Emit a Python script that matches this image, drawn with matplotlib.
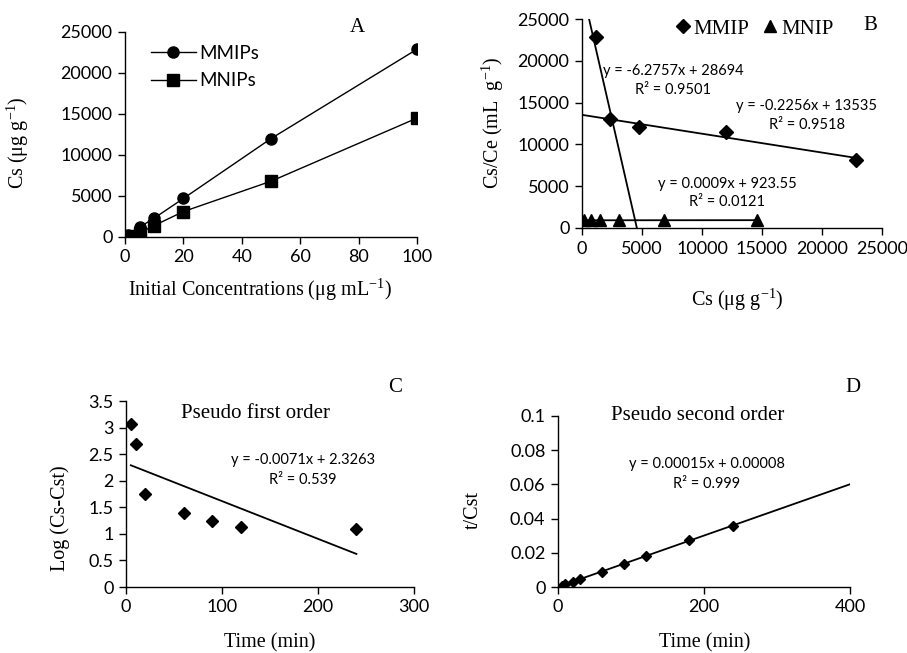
import numpy as np
import matplotlib
matplotlib.use("Agg")
import matplotlib.pyplot as plt

# ---- data ----
conc = [1, 5, 10, 20, 50, 100]
cs_mmip = [250, 1200, 2300, 4700, 12000, 22900]
cs_mnip = [100, 500, 1400, 3100, 6800, 14500]

# Scatchard
sc_mmip_x = [1194, 2360, 4720, 12000, 22860]
sc_mmip_y = [22800, 13040, 12040, 11440, 8130]
sc_mnip_x = [140, 750, 1470, 3110, 6830, 14580]
sc_mnip_y = [920, 960, 1000, 920, 930, 960]
fit_steep = (-6.2757, 28694)
fit_flat = (-0.2256, 13535)
fit_mnip = (0.0009, 923.55)

# kinetics
t_first = [5, 10, 20, 60, 90, 120, 240]
log_first = [3.07, 2.70, 1.75, 1.40, 1.25, 1.13, 1.09]
fit_first = (-0.0071, 2.3263)

t_second = [5, 10, 20, 30, 60, 90, 120, 180, 240]
tq_second = [0.0008, 0.0018, 0.0031, 0.0047, 0.0088, 0.0134, 0.0179, 0.0272, 0.0358]
fit_second = (0.00015, 0.00008)

W, H = 907, 653
SANS = "Lato"
SERIF = "Liberation Serif"
LBL = 15     # serif titles / letters
AXL = 14.5   # axis labels
TCK = 13     # tick labels
EQ = 10.5    # trendline equations

plt.rcParams["font.family"] = SANS
plt.rcParams["mathtext.fontset"] = "custom"
plt.rcParams["mathtext.rm"] = SERIF
plt.rcParams["mathtext.it"] = SERIF + ":italic"
plt.rcParams["axes.linewidth"] = 1.0

fig = plt.figure(figsize=(W / 100, H / 100), dpi=100)


def box(l, r, b, t):
    return [l / W, 1 - b / H, (r - l) / W, (b - t) / H]


def ftext(x, y, s, **kw):
    kw.setdefault("ha", "center")
    kw.setdefault("va", "center")
    fig.text(x / W, 1 - y / H, s, **kw)


def style(ax):
    for sp in ("top", "right"):
        ax.spines[sp].set_visible(False)
    ax.tick_params(direction="out", length=5, width=1, labelsize=TCK, pad=4)


# ---- A ----
axA = fig.add_axes(box(125, 417, 237, 32))
style(axA)
axA.plot(conc, cs_mmip, "k-o", lw=1, ms=8, label="MMIPs")
axA.plot(conc, cs_mnip, "k-s", lw=1, ms=8, label="MNIPs")
axA.set_xlim(0, 100)
axA.set_ylim(0, 25000)
axA.set_xticks(range(0, 101, 20))
axA.set_yticks(range(0, 25001, 5000))
axA.legend(loc="upper left", bbox_to_anchor=(0.03, 1.02), frameon=False,
           fontsize=13.5, handlelength=2.4, labelspacing=0.55, handletextpad=0.2)
ftext(357, 27, "A", family=SERIF, fontsize=LBL)
ftext(260, 290, r"Initial Concentrations ($\mathrm{\mu}$g mL$^{-1}$)", family=SERIF, fontsize=AXL)
ftext(18, 143, r"Cs ($\mathrm{\mu}$g g$^{-1}$)", family=SERIF, fontsize=AXL, rotation=90)

# ---- B ----
axB = fig.add_axes(box(582, 882, 228, 19))
style(axB)
xs = np.array([250, fit_steep[1] / -fit_steep[0]])
axB.plot(xs, fit_steep[0] * xs + fit_steep[1], "k-", lw=1.3)
xf = np.array([0, max(sc_mmip_x)])
axB.plot(xf, fit_flat[0] * xf + fit_flat[1], "k-", lw=1.3)
xn = np.array([0, max(sc_mnip_x)])
axB.plot(xn, fit_mnip[0] * xn + fit_mnip[1], "k-", lw=1.3)
axB.plot(sc_mmip_x, sc_mmip_y, "kD", ms=7.5, label="MMIP")
axB.plot(sc_mnip_x, sc_mnip_y, "k^", ms=8, label="MNIP")
axB.set_xlim(0, 25000)
axB.set_ylim(0, 25000)
axB.set_xticks(range(0, 25001, 5000))
axB.set_yticks(range(0, 25001, 5000))
axB.legend(loc="upper right", bbox_to_anchor=(0.90, 1.09), ncol=2, frameon=False,
           prop={"family": SERIF, "size": 15}, handlelength=0.8, handletextpad=0.1,
           columnspacing=0.6)
ftext(870, 25, "B", family=SERIF, fontsize=LBL)
ftext(673, 71, "y = -6.2757x + 28694", fontsize=EQ)
ftext(673, 90, "R\u00b2 = 0.9501", fontsize=EQ)
ftext(807, 106, "y = -0.2256x + 13535", fontsize=EQ)
ftext(807, 125, "R\u00b2 = 0.9518", fontsize=EQ)
ftext(727, 184, "y = 0.0009x + 923.55", fontsize=EQ)
ftext(727, 202, "R\u00b2 = 0.0121", fontsize=EQ)
ftext(737, 300, r"Cs ($\mathrm{\mu}$g g$^{-1}$)", family=SERIF, fontsize=AXL)
ftext(493, 123, r"Cs/Ce (mL  g$^{-1}$)", family=SERIF, fontsize=AXL, rotation=90)

# ---- C ----
axC = fig.add_axes(box(126, 414, 587, 401))
style(axC)
tc = np.array([min(t_first), max(t_first)])
axC.plot(tc, fit_first[0] * tc + fit_first[1], "k-", lw=1.3)
axC.plot(t_first, log_first, "kD", ms=6)
axC.set_xlim(0, 300)
axC.set_ylim(0, 3.5)
axC.set_xticks([0, 100, 200, 300])
axC.set_yticks(np.arange(0, 3.51, 0.5))
axC.set_yticklabels(["0", "0.5", "1", "1.5", "2", "2.5", "3", "3.5"])
ftext(395, 388, "C", family=SERIF, fontsize=LBL)
ftext(255, 413, "Pseudo first order", family=SERIF, fontsize=LBL)
ftext(303, 460, "y = -0.0071x + 2.3263", fontsize=EQ)
ftext(303, 480, "R\u00b2 = 0.539", fontsize=EQ)
ftext(270, 643, "Time (min)", family=SERIF, fontsize=AXL)
ftext(60, 518, "Log (Cs-Cst)", family=SERIF, fontsize=AXL, rotation=90)

# ---- D ----
axD = fig.add_axes(box(558, 850, 587, 416))
style(axD)
td = np.array([0, 400])
axD.plot(td, fit_second[0] * td + fit_second[1], "k-", lw=1.3)
axD.plot(t_second, tq_second, "kD", ms=5.5)
axD.set_xlim(0, 400)
axD.set_ylim(0, 0.1)
axD.set_xticks([0, 200, 400])
axD.set_yticks(np.arange(0, 0.101, 0.02))
axD.set_yticklabels(["0", "0.02", "0.04", "0.06", "0.08", "0.1"])
ftext(853, 388, "D", family=SERIF, fontsize=LBL)
ftext(698, 415, "Pseudo second order", family=SERIF, fontsize=LBL)
ftext(707, 464, "y = 0.00015x + 0.00008", fontsize=EQ)
ftext(707, 484, "R\u00b2 = 0.999", fontsize=EQ)
ftext(705, 643, "Time (min)", family=SERIF, fontsize=AXL)
ftext(473, 510, "t/Cst", family=SERIF, fontsize=AXL, rotation=90)

fig.savefig("out.png", dpi=100)
